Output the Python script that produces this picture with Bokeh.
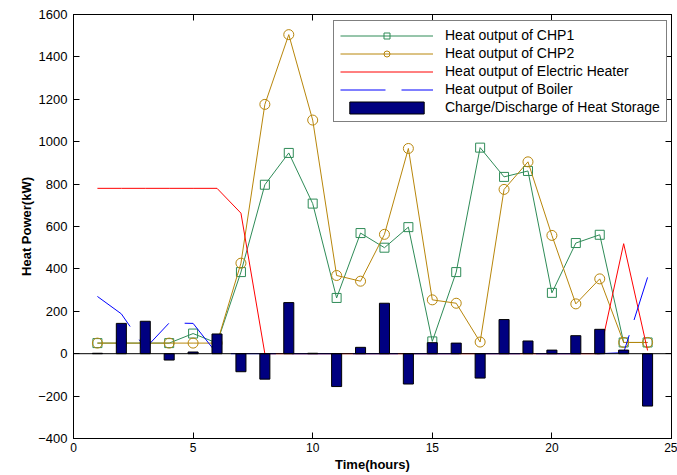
from bokeh.plotting import figure
from bokeh.models import LinearAxis, FixedTicker, Legend, LegendItem, Span, Range1d
from bokeh.embed import file_html
from bokeh.resources import INLINE

hours = list(range(1, 25))
chp1 = [50, 50, 50, 50, 95, 50, 385, 797, 947, 708, 263, 569,
        500, 597, 58, 385, 972, 834, 862, 287, 522, 561, 53, 53]
chp2 = [50, 50, 50, 50, 50, 50, 427, 1176, 1505, 1102, 369, 342,
        563, 968, 254, 238, 55, 775, 905, 558, 235, 353, 53, 53]
eheater = [780, 780, 780, 780, 780, 780, 663, 0, 0, 0, 0, 0,
           0, 0, 0, 0, 0, 0, 0, 0, 0, 0, 519, 15]
boiler = [270, 188, 25, 145, 143, 0, 0, 0, 0, 0, 0, 0,
          0, 0, 0, 0, 0, 0, 0, 0, 0, 0, 5, 360]
storage = [2, 143, 153, -30, 8, 93, -85, -120, 241, 2, -155, 30,
           238, -143, 52, 50, -115, 161, 60, 17, 85, 115, 17, -247]
x_ticks = [0, 5, 10, 15, 20, 25]
y_ticks = [-400, -200, 0, 200, 400, 600, 800, 1000, 1200, 1400, 1600]

FONT = "Liberation Sans"
GREEN = "#2E8B57"
GOLD = "#B8860B"

p = figure(width=677, height=475, output_backend="svg", toolbar_location=None,
           x_range=Range1d(0, 25), y_range=Range1d(-400, 1600),
           min_border_left=73, min_border_right=6, min_border_top=14, min_border_bottom=37)
p.xgrid.visible = False
p.ygrid.visible = False
p.outline_line_color = "black"
p.outline_line_width = 1

for ax in (p.xaxis[0], p.yaxis[0]):
    ax.major_tick_in = 6
    ax.major_tick_out = 0
    ax.minor_tick_in = 0
    ax.minor_tick_out = 0
    ax.axis_line_color = "black"
    ax.major_tick_line_color = "black"
    ax.major_label_text_font = FONT
    ax.major_label_text_color = "black"
    ax.axis_label_text_font = FONT
    ax.axis_label_text_font_size = "13px"
    ax.axis_label_text_font_style = "bold"
    ax.axis_label_text_color = "black"

p.xaxis[0].major_label_text_font_size = "12px"
p.xaxis[0].major_label_standoff = 4
p.xaxis[0].axis_label_standoff = 2
p.yaxis[0].major_label_text_font_size = "13px"
p.yaxis[0].major_label_standoff = 6
p.yaxis[0].axis_label_standoff = 1

p.xaxis[0].ticker = FixedTicker(ticks=x_ticks)
p.yaxis[0].ticker = FixedTicker(ticks=y_ticks)
p.xaxis[0].axis_label = "Time(hours)"
p.yaxis[0].axis_label = "Heat Power(kW)"

top_ax = LinearAxis(ticker=FixedTicker(ticks=x_ticks), major_label_text_font_size="1px",
                    major_label_text_color=None, major_label_standoff=0,
                    major_tick_in=6, major_tick_out=0,
                    minor_tick_in=0, minor_tick_out=0, axis_line_color="black")
right_ax = LinearAxis(ticker=FixedTicker(ticks=y_ticks), major_label_text_font_size="1px",
                      major_label_text_color=None, major_label_standoff=0,
                      major_tick_in=6, major_tick_out=0,
                      minor_tick_in=0, minor_tick_out=0, axis_line_color="black")
p.add_layout(top_ax, "above")
p.add_layout(right_ax, "right")

l1 = p.line(hours, chp1, line_color=GREEN, line_width=1)
s1 = p.scatter(hours, chp1, marker="square", size=9, fill_color=None, line_color=GREEN, line_width=1)
l2 = p.line(hours, chp2, line_color=GOLD, line_width=1)
s2 = p.scatter(hours, chp2, marker="circle", size=10, fill_color=None, line_color=GOLD, line_width=1)
l3 = p.line(hours, eheater, line_color="#FF0000", line_width=1)
l4 = p.line(hours, boiler, line_color="#0000FF", line_width=1, line_dash="45 16")
b = p.vbar(x=hours, top=storage, bottom=0, width=0.42, fill_color="#000080", line_color="black", line_width=1)

p.add_layout(Span(location=0, dimension="width", line_color="black", line_width=1))

legend = Legend(items=[
    LegendItem(label="Heat output of CHP1", renderers=[l1, s1]),
    LegendItem(label="Heat output of CHP2", renderers=[l2, s2]),
    LegendItem(label="Heat output of Electric Heater", renderers=[l3]),
    LegendItem(label="Heat output of Boiler", renderers=[l4]),
    LegendItem(label="Charge/Discharge of Heat Storage", renderers=[b]),
], location=(260, 316), margin=0, padding=6, spacing=2,
    glyph_width=93, glyph_height=15, label_height=15, label_standoff=12,
    label_text_font=FONT, label_text_font_size="14px", label_text_color="black",
    border_line_color="black", border_line_width=1, background_fill_color="white",
    background_fill_alpha=1.0)
p.add_layout(legend)

open("out.html", "w").write(file_html(p, INLINE))
